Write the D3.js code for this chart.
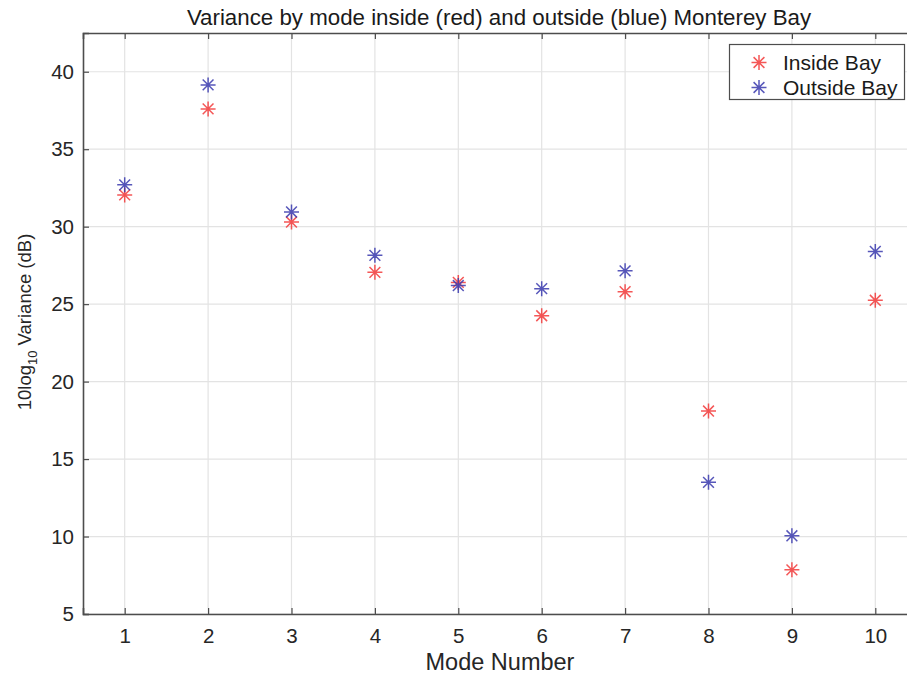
<!DOCTYPE html>
<html>
<head>
<meta charset="utf-8">
<script src="https://cdn.jsdelivr.net/npm/d3@7"></script>
<style>
  html, body { margin: 0; padding: 0; background: #fff; }
  svg { display: block; font-family: "Liberation Sans", Arial, Helvetica, sans-serif; }
</style>
</head>
<body>
<svg id="chart" width="907" height="676"></svg>
<script>
// Mode numbers and 10log10 variance (dB) per region
const modes = [1, 2, 3, 4, 5, 6, 7, 8, 9, 10];
const insideBay = [32.05, 37.6, 30.3, 27.05, 26.4, 24.25, 25.8, 18.1, 7.85, 25.25];
const outsideBay = [32.7, 39.15, 30.95, 28.15, 26.2, 26.0, 27.15, 13.5, 10.05, 28.4];
const xTicks = [1, 2, 3, 4, 5, 6, 7, 8, 9, 10];
const yTicks = [5, 10, 15, 20, 25, 30, 35, 40];
const seriesNames = ["Inside Bay", "Outside Bay"];

const svg = d3.select("#chart");
const margin = { left: 83, top: 33, right: 917, bottom: 614 };

const x = d3.scaleLinear().domain([0.5, 10.5]).range([margin.left, margin.right]);
const y = d3.scaleLinear().domain([5, 42.5]).range([margin.bottom, margin.top]);

const axisColor = "#4d4d4d";
const gridColor = "#e3e3e3";
const textColor = "#262626";

// Grid
const grid = svg.append("g");
grid.selectAll(".gx").data(xTicks).join("line")
  .attr("x1", d => x(d)).attr("x2", d => x(d))
  .attr("y1", margin.top).attr("y2", margin.bottom)
  .attr("stroke", gridColor).attr("stroke-width", 1.2);
grid.selectAll(".gy").data(yTicks).join("line")
  .attr("x1", margin.left).attr("x2", margin.right)
  .attr("y1", d => y(d)).attr("y2", d => y(d))
  .attr("stroke", gridColor).attr("stroke-width", 1.2);

// Axes (ticks pointing inward)
const xAxis = d3.axisBottom(x).tickValues(xTicks).tickSize(-6).tickPadding(14).tickFormat(d3.format("d"));
const yAxis = d3.axisLeft(y).tickValues(yTicks).tickSize(-6).tickPadding(9).tickFormat(d3.format("d"));
const xTop = d3.axisTop(x).tickValues(xTicks).tickSize(-6).tickFormat("");

function styleAxis(g) {
  g.select(".domain").attr("stroke", axisColor).attr("stroke-width", 1.6);
  g.selectAll(".tick line").attr("stroke", axisColor).attr("stroke-width", 1.2);
  g.selectAll(".tick text").attr("fill", textColor).attr("font-size", 20.5)
    .attr("font-family", "\"Liberation Sans\", Arial, sans-serif");
}

svg.append("g").attr("transform", `translate(0,${margin.bottom})`).call(xAxis).call(styleAxis);
svg.append("g").attr("transform", `translate(${margin.left},0)`).call(yAxis).call(styleAxis);
svg.append("g").attr("transform", `translate(0,${margin.top})`).call(xTop).call(styleAxis);

// Asterisk marker: plus + cross
function asterisk(g, cx, cy, r, color) {
  const d = r * 0.72;
  const path = `M${cx - r},${cy}L${cx + r},${cy}M${cx},${cy - r}L${cx},${cy + r}` +
    `M${cx - d},${cy - d}L${cx + d},${cy + d}M${cx - d},${cy + d}L${cx + d},${cy - d}`;
  g.append("path").attr("d", path).attr("stroke", color).attr("stroke-width", 1.5)
    .attr("fill", "none").attr("opacity", 0.85);
}

const red = "#f23a3a";
const blue = "#3a3aae";
const marks = svg.append("g");
modes.forEach((m, i) => asterisk(marks, x(m), y(insideBay[i]), 7.5, red));
modes.forEach((m, i) => asterisk(marks, x(m), y(outsideBay[i]), 7.5, blue));

// Title
svg.append("text").attr("x", 499).attr("y", 25).attr("text-anchor", "middle")
  .attr("font-size", 22.3).attr("fill", "#1a1a1a")
  .text("Variance by mode inside (red) and outside (blue) Monterey Bay");

// X label
svg.append("text").attr("x", x(5.5)).attr("y", 670).attr("text-anchor", "middle")
  .attr("font-size", 23.5).attr("fill", textColor).text("Mode Number");

// Y label with subscript
const yl = svg.append("text").attr("transform", "translate(31,322) rotate(-90)")
  .attr("text-anchor", "middle").attr("font-size", 18.5).attr("fill", textColor);
yl.append("tspan").text("10log");
yl.append("tspan").attr("font-size", 13).attr("dy", 6).text("10");
yl.append("tspan").attr("dy", -6).text(" Variance (dB)");

// Legend
const legend = svg.append("g");
legend.append("rect").attr("x", 729.5).attr("y", 44.5).attr("width", 175).attr("height", 55)
  .attr("fill", "#fff").attr("stroke", axisColor).attr("stroke-width", 1.2);
[red, blue].forEach((c, i) => {
  const ly = 62.5 + i * 25;
  asterisk(legend, 759, ly, 7.5, c);
  legend.append("text").attr("x", 783).attr("y", ly + 7.5).attr("font-size", 21)
    .attr("fill", "#1a1a1a").text(seriesNames[i]);
});
</script>
</body>
</html>
